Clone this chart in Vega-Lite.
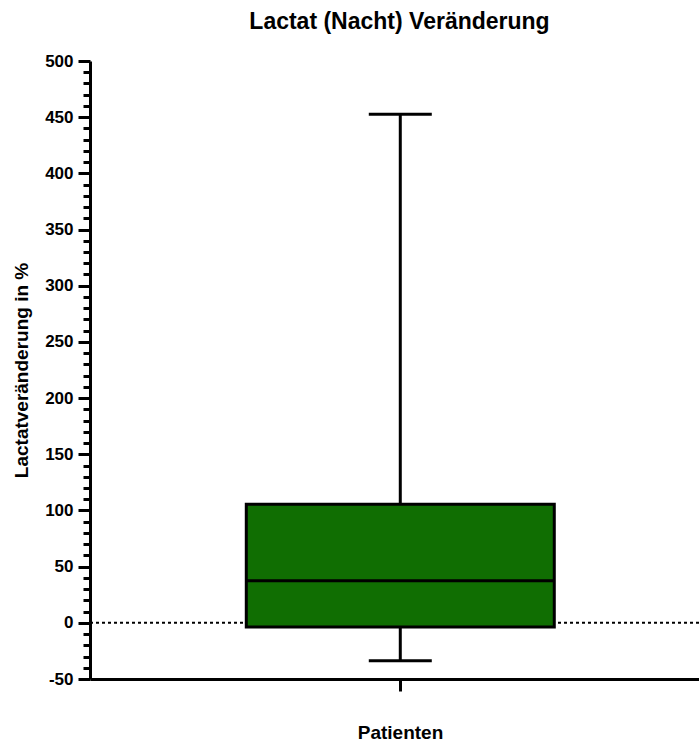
{
  "$schema": "https://vega.github.io/schema/vega-lite/v6.json",
  "autosize": "none",
  "width": 609,
  "height": 618,
  "padding": {"left": 90, "top": 61, "right": 0, "bottom": 65},
  "background": "white",
  "title": {
    "text": "Lactat (Nacht) Veränderung",
    "font": "Liberation Sans",
    "fontSize": 23,
    "fontWeight": "bold",
    "color": "black",
    "anchor": "middle",
    "dx": 5,
    "offset": 18
  },
  "config": {
    "view": {"stroke": null},
    "axis": {
      "grid": false,
      "domainColor": "black",
      "domainWidth": 3,
      "tickColor": "black",
      "tickWidth": 3,
      "labelFont": "Liberation Sans",
      "labelFontWeight": "bold",
      "labelFontSize": 17,
      "labelColor": "black",
      "titleFont": "Liberation Sans",
      "titleFontWeight": "bold",
      "titleFontSize": 19,
      "titleColor": "black"
    }
  },
  "datasets": {
    "stats": [
      {"group": "Patienten", "min": -33.7, "q1": -3.7, "median": 37.5, "q3": 105.5, "max": 452.6}
    ],
    "ref": [{"zero": 0}]
  },
  "layer": [
    {
      "data": {"name": "ref"},
      "mark": {"type": "rule", "color": "black", "strokeWidth": 2, "strokeDash": [3, 3]},
      "encoding": {
        "y": {"field": "zero", "type": "quantitative", "title": "Lactatveränderung in %"}
      }
    },
    {
      "data": {"name": "stats"},
      "mark": {"type": "rule", "color": "black", "strokeWidth": 3, "opacity": 1},
      "encoding": {
        "x": {"field": "group", "type": "nominal", "title": "Patienten"},
        "y": {"field": "min", "type": "quantitative", "title": "Lactatveränderung in %"},
        "y2": {"field": "max"}
      }
    },
    {
      "data": {"name": "stats"},
      "mark": {"type": "bar", "width": 308, "fill": "#106e02", "stroke": "black", "strokeWidth": 3, "opacity": 1},
      "encoding": {
        "x": {
          "field": "group",
          "type": "nominal",
          "title": "Patienten",
          "scale": {"type": "band", "paddingInner": 0, "paddingOuter": 0.5, "align": 0.519},
          "axis": {"labels": false, "tickSize": 12, "titlePadding": 31, "titleX": 310, "domainWidth": 3}
        },
        "y": {
          "field": "q1",
          "type": "quantitative",
          "title": "Lactatveränderung in %",
          "scale": {"domain": [-50, 500], "nice": false, "zero": false},
          "axis": {
            "values": [-50, -40, -30, -20, -10, 0, 10, 20, 30, 40, 50, 60, 70, 80, 90, 100, 110, 120, 130, 140, 150, 160, 170, 180, 190, 200, 210, 220, 230, 240, 250, 260, 270, 280, 290, 300, 310, 320, 330, 340, 350, 360, 370, 380, 390, 400, 410, 420, 430, 440, 450, 460, 470, 480, 490, 500],
            "tickCount": 100,
            "labelOverlap": false,
            "labelExpr": "datum.value % 50 === 0 ? toString(datum.value) : ''",
            "tickSize": {"condition": {"test": "datum.value % 50 === 0", "value": 12}, "value": 7},
            "labelPadding": 5,
            "titlePadding": 13
          }
        },
        "y2": {"field": "q3"}
      }
    },
    {
      "data": {"name": "stats"},
      "mark": {"type": "tick", "color": "black", "size": 308, "thickness": 3, "opacity": 1},
      "encoding": {
        "x": {"field": "group", "type": "nominal", "title": "Patienten"},
        "y": {"field": "median", "type": "quantitative", "title": "Lactatveränderung in %"}
      }
    },
    {
      "data": {"name": "stats"},
      "mark": {"type": "tick", "color": "black", "size": 63, "thickness": 3, "opacity": 1},
      "encoding": {
        "x": {"field": "group", "type": "nominal", "title": "Patienten"},
        "y": {"field": "min", "type": "quantitative", "title": "Lactatveränderung in %"}
      }
    },
    {
      "data": {"name": "stats"},
      "mark": {"type": "tick", "color": "black", "size": 63, "thickness": 3, "opacity": 1},
      "encoding": {
        "x": {"field": "group", "type": "nominal", "title": "Patienten"},
        "y": {"field": "max", "type": "quantitative", "title": "Lactatveränderung in %"}
      }
    }
  ]
}
